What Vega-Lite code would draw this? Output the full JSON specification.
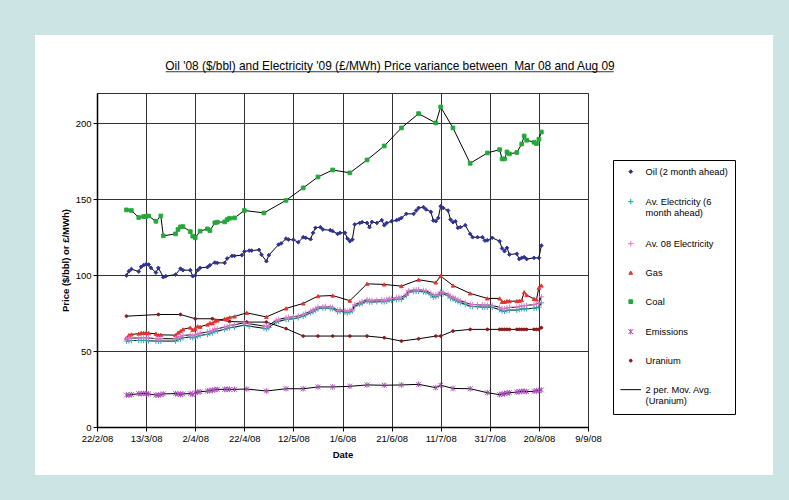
{
"$schema": "https://vega.github.io/schema/vega-lite/v6.json",
"autosize": {"type": "none"},
"width": 491,
"height": 334,
"padding": {"left": 97, "top": 93, "right": 201, "bottom": 73},
"background": "white",
"config": {
  "font": "Liberation Sans",
  "view": {"stroke": "#333333", "strokeWidth": 1}
},
"title": {"text": "Oil '08 ($/bbl) and Electricity '09 (£/MWh) Price variance between \u00a0Mar 08 and Aug 09", "font": "Liberation Sans", "fontSize": 11.9, "fontWeight": "normal", "color": "black", "anchor": "middle", "frame": "group", "offset": 0, "baseline": "alphabetic", "dx": 47.5, "dy": 110},
"datasets": {
"prices": [
{"series":"Oil (2 month ahead)","date":"2008-03-05","price":99.8},
{"series":"Oil (2 month ahead)","date":"2008-03-06","price":102.6},
{"series":"Oil (2 month ahead)","date":"2008-03-07","price":104.0},
{"series":"Oil (2 month ahead)","date":"2008-03-10","price":102.4},
{"series":"Oil (2 month ahead)","date":"2008-03-11","price":105.5},
{"series":"Oil (2 month ahead)","date":"2008-03-12","price":106.6},
{"series":"Oil (2 month ahead)","date":"2008-03-13","price":107.2},
{"series":"Oil (2 month ahead)","date":"2008-03-14","price":107.0},
{"series":"Oil (2 month ahead)","date":"2008-03-15","price":104.8},
{"series":"Oil (2 month ahead)","date":"2008-03-17","price":101.7},
{"series":"Oil (2 month ahead)","date":"2008-03-18","price":104.8},
{"series":"Oil (2 month ahead)","date":"2008-03-20","price":98.7},
{"series":"Oil (2 month ahead)","date":"2008-03-21","price":99.3},
{"series":"Oil (2 month ahead)","date":"2008-03-25","price":100.4},
{"series":"Oil (2 month ahead)","date":"2008-03-27","price":104.3},
{"series":"Oil (2 month ahead)","date":"2008-03-28","price":103.3},
{"series":"Oil (2 month ahead)","date":"2008-03-31","price":103.3},
{"series":"Oil (2 month ahead)","date":"2008-04-01","price":99.3},
{"series":"Oil (2 month ahead)","date":"2008-04-02","price":99.8},
{"series":"Oil (2 month ahead)","date":"2008-04-03","price":103.3},
{"series":"Oil (2 month ahead)","date":"2008-04-04","price":104.8},
{"series":"Oil (2 month ahead)","date":"2008-04-07","price":105.3},
{"series":"Oil (2 month ahead)","date":"2008-04-08","price":106.6},
{"series":"Oil (2 month ahead)","date":"2008-04-10","price":108.3},
{"series":"Oil (2 month ahead)","date":"2008-04-11","price":108.1},
{"series":"Oil (2 month ahead)","date":"2008-04-14","price":108.1},
{"series":"Oil (2 month ahead)","date":"2008-04-15","price":111.0},
{"series":"Oil (2 month ahead)","date":"2008-04-17","price":112.7},
{"series":"Oil (2 month ahead)","date":"2008-04-18","price":112.7},
{"series":"Oil (2 month ahead)","date":"2008-04-21","price":113.2},
{"series":"Oil (2 month ahead)","date":"2008-04-22","price":115.6},
{"series":"Oil (2 month ahead)","date":"2008-04-24","price":116.2},
{"series":"Oil (2 month ahead)","date":"2008-04-25","price":116.2},
{"series":"Oil (2 month ahead)","date":"2008-04-28","price":116.7},
{"series":"Oil (2 month ahead)","date":"2008-04-29","price":113.5},
{"series":"Oil (2 month ahead)","date":"2008-05-01","price":109.2},
{"series":"Oil (2 month ahead)","date":"2008-05-02","price":113.2},
{"series":"Oil (2 month ahead)","date":"2008-05-06","price":120.2},
{"series":"Oil (2 month ahead)","date":"2008-05-07","price":120.9},
{"series":"Oil (2 month ahead)","date":"2008-05-09","price":124.1},
{"series":"Oil (2 month ahead)","date":"2008-05-10","price":123.5},
{"series":"Oil (2 month ahead)","date":"2008-05-12","price":123.3},
{"series":"Oil (2 month ahead)","date":"2008-05-14","price":121.7},
{"series":"Oil (2 month ahead)","date":"2008-05-16","price":125.0},
{"series":"Oil (2 month ahead)","date":"2008-05-17","price":124.6},
{"series":"Oil (2 month ahead)","date":"2008-05-19","price":123.7},
{"series":"Oil (2 month ahead)","date":"2008-05-20","price":127.9},
{"series":"Oil (2 month ahead)","date":"2008-05-21","price":131.2},
{"series":"Oil (2 month ahead)","date":"2008-05-23","price":131.6},
{"series":"Oil (2 month ahead)","date":"2008-05-24","price":130.1},
{"series":"Oil (2 month ahead)","date":"2008-05-27","price":129.6},
{"series":"Oil (2 month ahead)","date":"2008-05-28","price":129.0},
{"series":"Oil (2 month ahead)","date":"2008-05-30","price":127.2},
{"series":"Oil (2 month ahead)","date":"2008-05-31","price":127.9},
{"series":"Oil (2 month ahead)","date":"2008-06-02","price":127.9},
{"series":"Oil (2 month ahead)","date":"2008-06-03","price":124.1},
{"series":"Oil (2 month ahead)","date":"2008-06-04","price":122.4},
{"series":"Oil (2 month ahead)","date":"2008-06-05","price":123.5},
{"series":"Oil (2 month ahead)","date":"2008-06-06","price":133.4},
{"series":"Oil (2 month ahead)","date":"2008-06-08","price":134.4},
{"series":"Oil (2 month ahead)","date":"2008-06-09","price":134.9},
{"series":"Oil (2 month ahead)","date":"2008-06-11","price":134.4},
{"series":"Oil (2 month ahead)","date":"2008-06-12","price":131.6},
{"series":"Oil (2 month ahead)","date":"2008-06-13","price":135.1},
{"series":"Oil (2 month ahead)","date":"2008-06-15","price":134.4},
{"series":"Oil (2 month ahead)","date":"2008-06-17","price":136.2},
{"series":"Oil (2 month ahead)","date":"2008-06-18","price":132.9},
{"series":"Oil (2 month ahead)","date":"2008-06-19","price":134.4},
{"series":"Oil (2 month ahead)","date":"2008-06-21","price":135.5},
{"series":"Oil (2 month ahead)","date":"2008-06-23","price":136.2},
{"series":"Oil (2 month ahead)","date":"2008-06-24","price":136.8},
{"series":"Oil (2 month ahead)","date":"2008-06-25","price":137.7},
{"series":"Oil (2 month ahead)","date":"2008-06-27","price":140.4},
{"series":"Oil (2 month ahead)","date":"2008-06-30","price":140.4},
{"series":"Oil (2 month ahead)","date":"2008-07-01","price":142.6},
{"series":"Oil (2 month ahead)","date":"2008-07-02","price":144.3},
{"series":"Oil (2 month ahead)","date":"2008-07-04","price":144.8},
{"series":"Oil (2 month ahead)","date":"2008-07-05","price":143.3},
{"series":"Oil (2 month ahead)","date":"2008-07-07","price":141.7},
{"series":"Oil (2 month ahead)","date":"2008-07-08","price":136.0},
{"series":"Oil (2 month ahead)","date":"2008-07-09","price":135.6},
{"series":"Oil (2 month ahead)","date":"2008-07-10","price":137.7},
{"series":"Oil (2 month ahead)","date":"2008-07-11","price":145.4},
{"series":"Oil (2 month ahead)","date":"2008-07-12","price":144.3},
{"series":"Oil (2 month ahead)","date":"2008-07-14","price":142.6},
{"series":"Oil (2 month ahead)","date":"2008-07-15","price":136.6},
{"series":"Oil (2 month ahead)","date":"2008-07-16","price":134.9},
{"series":"Oil (2 month ahead)","date":"2008-07-17","price":135.5},
{"series":"Oil (2 month ahead)","date":"2008-07-18","price":131.2},
{"series":"Oil (2 month ahead)","date":"2008-07-19","price":131.6},
{"series":"Oil (2 month ahead)","date":"2008-07-21","price":132.9},
{"series":"Oil (2 month ahead)","date":"2008-07-23","price":127.2},
{"series":"Oil (2 month ahead)","date":"2008-07-24","price":125.0},
{"series":"Oil (2 month ahead)","date":"2008-07-26","price":125.0},
{"series":"Oil (2 month ahead)","date":"2008-07-28","price":125.0},
{"series":"Oil (2 month ahead)","date":"2008-07-29","price":122.8},
{"series":"Oil (2 month ahead)","date":"2008-07-30","price":123.0},
{"series":"Oil (2 month ahead)","date":"2008-08-01","price":124.6},
{"series":"Oil (2 month ahead)","date":"2008-08-04","price":122.4},
{"series":"Oil (2 month ahead)","date":"2008-08-05","price":117.6},
{"series":"Oil (2 month ahead)","date":"2008-08-06","price":115.8},
{"series":"Oil (2 month ahead)","date":"2008-08-07","price":118.0},
{"series":"Oil (2 month ahead)","date":"2008-08-08","price":113.6},
{"series":"Oil (2 month ahead)","date":"2008-08-11","price":114.1},
{"series":"Oil (2 month ahead)","date":"2008-08-12","price":110.6},
{"series":"Oil (2 month ahead)","date":"2008-08-13","price":111.4},
{"series":"Oil (2 month ahead)","date":"2008-08-14","price":111.9},
{"series":"Oil (2 month ahead)","date":"2008-08-15","price":110.6},
{"series":"Oil (2 month ahead)","date":"2008-08-18","price":111.4},
{"series":"Oil (2 month ahead)","date":"2008-08-20","price":111.4},
{"series":"Oil (2 month ahead)","date":"2008-08-21","price":119.5},
{"series":"Coal","date":"2008-03-05","price":143.0},
{"series":"Coal","date":"2008-03-07","price":142.6},
{"series":"Coal","date":"2008-03-10","price":138.0},
{"series":"Coal","date":"2008-03-12","price":138.6},
{"series":"Coal","date":"2008-03-13","price":138.8},
{"series":"Coal","date":"2008-03-14","price":139.0},
{"series":"Coal","date":"2008-03-17","price":135.5},
{"series":"Coal","date":"2008-03-19","price":139.0},
{"series":"Coal","date":"2008-03-20","price":125.9},
{"series":"Coal","date":"2008-03-25","price":127.2},
{"series":"Coal","date":"2008-03-26","price":130.1},
{"series":"Coal","date":"2008-03-27","price":131.8},
{"series":"Coal","date":"2008-03-28","price":132.0},
{"series":"Coal","date":"2008-03-31","price":128.7},
{"series":"Coal","date":"2008-04-01","price":125.7},
{"series":"Coal","date":"2008-04-02","price":124.6},
{"series":"Coal","date":"2008-04-04","price":129.0},
{"series":"Coal","date":"2008-04-07","price":130.5},
{"series":"Coal","date":"2008-04-08","price":129.4},
{"series":"Coal","date":"2008-04-10","price":134.5},
{"series":"Coal","date":"2008-04-11","price":134.9},
{"series":"Coal","date":"2008-04-14","price":135.1},
{"series":"Coal","date":"2008-04-15","price":136.6},
{"series":"Coal","date":"2008-04-16","price":137.5},
{"series":"Coal","date":"2008-04-18","price":137.7},
{"series":"Coal","date":"2008-04-22","price":142.6},
{"series":"Coal","date":"2008-04-30","price":141.0},
{"series":"Coal","date":"2008-05-09","price":149.3},
{"series":"Coal","date":"2008-05-16","price":157.5},
{"series":"Coal","date":"2008-05-22","price":164.7},
{"series":"Coal","date":"2008-05-28","price":169.3},
{"series":"Coal","date":"2008-06-04","price":167.4},
{"series":"Coal","date":"2008-06-11","price":175.9},
{"series":"Coal","date":"2008-06-18","price":185.1},
{"series":"Coal","date":"2008-06-25","price":197.0},
{"series":"Coal","date":"2008-07-02","price":206.4},
{"series":"Coal","date":"2008-07-09","price":200.3},
{"series":"Coal","date":"2008-07-11","price":210.8},
{"series":"Coal","date":"2008-07-16","price":197.0},
{"series":"Coal","date":"2008-07-23","price":173.7},
{"series":"Coal","date":"2008-07-30","price":180.5},
{"series":"Coal","date":"2008-08-04","price":182.7},
{"series":"Coal","date":"2008-08-05","price":176.6},
{"series":"Coal","date":"2008-08-06","price":176.6},
{"series":"Coal","date":"2008-08-07","price":181.2},
{"series":"Coal","date":"2008-08-08","price":179.9},
{"series":"Coal","date":"2008-08-11","price":180.8},
{"series":"Coal","date":"2008-08-13","price":186.4},
{"series":"Coal","date":"2008-08-14","price":191.7},
{"series":"Coal","date":"2008-08-15","price":188.9},
{"series":"Coal","date":"2008-08-18","price":187.6},
{"series":"Coal","date":"2008-08-19","price":186.7},
{"series":"Coal","date":"2008-08-20","price":189.6},
{"series":"Coal","date":"2008-08-21","price":194.3},
{"series":"Uranium","date":"2008-03-05","price":73.0},
{"series":"Uranium","date":"2008-03-18","price":74.1},
{"series":"Uranium","date":"2008-03-27","price":74.1},
{"series":"Uranium","date":"2008-04-02","price":71.3},
{"series":"Uranium","date":"2008-04-09","price":71.3},
{"series":"Uranium","date":"2008-04-16","price":69.5},
{"series":"Uranium","date":"2008-04-23","price":69.1},
{"series":"Uranium","date":"2008-05-01","price":69.1},
{"series":"Uranium","date":"2008-05-09","price":64.8},
{"series":"Uranium","date":"2008-05-16","price":59.9},
{"series":"Uranium","date":"2008-05-22","price":59.9},
{"series":"Uranium","date":"2008-05-28","price":59.9},
{"series":"Uranium","date":"2008-06-04","price":59.9},
{"series":"Uranium","date":"2008-06-11","price":59.9},
{"series":"Uranium","date":"2008-06-18","price":58.8},
{"series":"Uranium","date":"2008-06-25","price":56.6},
{"series":"Uranium","date":"2008-07-02","price":58.1},
{"series":"Uranium","date":"2008-07-09","price":59.9},
{"series":"Uranium","date":"2008-07-11","price":59.9},
{"series":"Uranium","date":"2008-07-16","price":63.2},
{"series":"Uranium","date":"2008-07-23","price":64.3},
{"series":"Uranium","date":"2008-07-30","price":64.3},
{"series":"Uranium","date":"2008-08-04","price":64.3},
{"series":"Uranium","date":"2008-08-05","price":64.3},
{"series":"Uranium","date":"2008-08-06","price":64.3},
{"series":"Uranium","date":"2008-08-07","price":64.3},
{"series":"Uranium","date":"2008-08-08","price":64.3},
{"series":"Uranium","date":"2008-08-11","price":64.3},
{"series":"Uranium","date":"2008-08-12","price":64.3},
{"series":"Uranium","date":"2008-08-13","price":64.3},
{"series":"Uranium","date":"2008-08-14","price":64.3},
{"series":"Uranium","date":"2008-08-15","price":64.3},
{"series":"Uranium","date":"2008-08-18","price":64.3},
{"series":"Uranium","date":"2008-08-19","price":64.3},
{"series":"Uranium","date":"2008-08-20","price":64.3},
{"series":"Uranium","date":"2008-08-21","price":65.4},
{"series":"Gas","date":"2008-03-05","price":58.8},
{"series":"Gas","date":"2008-03-06","price":60.5},
{"series":"Gas","date":"2008-03-07","price":61.0},
{"series":"Gas","date":"2008-03-10","price":61.5},
{"series":"Gas","date":"2008-03-11","price":62.0},
{"series":"Gas","date":"2008-03-12","price":62.0},
{"series":"Gas","date":"2008-03-13","price":62.0},
{"series":"Gas","date":"2008-03-14","price":61.8},
{"series":"Gas","date":"2008-03-17","price":61.4},
{"series":"Gas","date":"2008-03-18","price":60.5},
{"series":"Gas","date":"2008-03-19","price":60.7},
{"series":"Gas","date":"2008-03-25","price":60.5},
{"series":"Gas","date":"2008-03-26","price":62.1},
{"series":"Gas","date":"2008-03-27","price":63.2},
{"series":"Gas","date":"2008-03-28","price":64.3},
{"series":"Gas","date":"2008-03-31","price":65.5},
{"series":"Gas","date":"2008-04-01","price":64.0},
{"series":"Gas","date":"2008-04-02","price":64.8},
{"series":"Gas","date":"2008-04-03","price":66.3},
{"series":"Gas","date":"2008-04-04","price":66.0},
{"series":"Gas","date":"2008-04-07","price":67.5},
{"series":"Gas","date":"2008-04-08","price":68.5},
{"series":"Gas","date":"2008-04-09","price":68.3},
{"series":"Gas","date":"2008-04-10","price":69.7},
{"series":"Gas","date":"2008-04-11","price":70.2},
{"series":"Gas","date":"2008-04-14","price":71.2},
{"series":"Gas","date":"2008-04-15","price":71.5},
{"series":"Gas","date":"2008-04-16","price":72.2},
{"series":"Gas","date":"2008-04-18","price":72.8},
{"series":"Gas","date":"2008-04-23","price":75.2},
{"series":"Gas","date":"2008-05-01","price":72.5},
{"series":"Gas","date":"2008-05-09","price":78.1},
{"series":"Gas","date":"2008-05-16","price":81.4},
{"series":"Gas","date":"2008-05-22","price":86.2},
{"series":"Gas","date":"2008-05-28","price":86.6},
{"series":"Gas","date":"2008-06-04","price":83.2},
{"series":"Gas","date":"2008-06-11","price":94.3},
{"series":"Gas","date":"2008-06-18","price":93.9},
{"series":"Gas","date":"2008-06-25","price":92.8},
{"series":"Gas","date":"2008-07-02","price":97.0},
{"series":"Gas","date":"2008-07-09","price":95.2},
{"series":"Gas","date":"2008-07-11","price":99.4},
{"series":"Gas","date":"2008-07-16","price":93.2},
{"series":"Gas","date":"2008-07-23","price":88.0},
{"series":"Gas","date":"2008-07-30","price":84.7},
{"series":"Gas","date":"2008-08-04","price":84.7},
{"series":"Gas","date":"2008-08-05","price":82.4},
{"series":"Gas","date":"2008-08-06","price":82.4},
{"series":"Gas","date":"2008-08-07","price":82.9},
{"series":"Gas","date":"2008-08-08","price":82.9},
{"series":"Gas","date":"2008-08-11","price":82.9},
{"series":"Gas","date":"2008-08-12","price":83.1},
{"series":"Gas","date":"2008-08-13","price":83.6},
{"series":"Gas","date":"2008-08-14","price":88.8},
{"series":"Gas","date":"2008-08-15","price":86.9},
{"series":"Gas","date":"2008-08-18","price":84.4},
{"series":"Gas","date":"2008-08-19","price":84.0},
{"series":"Gas","date":"2008-08-20","price":91.7},
{"series":"Gas","date":"2008-08-21","price":93.2},
{"series":"Av. Electricity (6 month ahead)","date":"2008-03-05","price":56.6},
{"series":"Av. Electricity (6 month ahead)","date":"2008-03-06","price":56.8},
{"series":"Av. Electricity (6 month ahead)","date":"2008-03-07","price":57.0},
{"series":"Av. Electricity (6 month ahead)","date":"2008-03-10","price":57.0},
{"series":"Av. Electricity (6 month ahead)","date":"2008-03-11","price":57.0},
{"series":"Av. Electricity (6 month ahead)","date":"2008-03-12","price":57.0},
{"series":"Av. Electricity (6 month ahead)","date":"2008-03-13","price":57.0},
{"series":"Av. Electricity (6 month ahead)","date":"2008-03-14","price":56.8},
{"series":"Av. Electricity (6 month ahead)","date":"2008-03-17","price":56.6},
{"series":"Av. Electricity (6 month ahead)","date":"2008-03-18","price":56.4},
{"series":"Av. Electricity (6 month ahead)","date":"2008-03-19","price":56.6},
{"series":"Av. Electricity (6 month ahead)","date":"2008-03-25","price":56.6},
{"series":"Av. Electricity (6 month ahead)","date":"2008-03-26","price":57.7},
{"series":"Av. Electricity (6 month ahead)","date":"2008-03-27","price":58.1},
{"series":"Av. Electricity (6 month ahead)","date":"2008-03-28","price":58.8},
{"series":"Av. Electricity (6 month ahead)","date":"2008-03-31","price":59.2},
{"series":"Av. Electricity (6 month ahead)","date":"2008-04-01","price":58.8},
{"series":"Av. Electricity (6 month ahead)","date":"2008-04-02","price":59.2},
{"series":"Av. Electricity (6 month ahead)","date":"2008-04-03","price":59.8},
{"series":"Av. Electricity (6 month ahead)","date":"2008-04-04","price":60.3},
{"series":"Av. Electricity (6 month ahead)","date":"2008-04-07","price":61.0},
{"series":"Av. Electricity (6 month ahead)","date":"2008-04-08","price":61.6},
{"series":"Av. Electricity (6 month ahead)","date":"2008-04-09","price":62.1},
{"series":"Av. Electricity (6 month ahead)","date":"2008-04-10","price":63.2},
{"series":"Av. Electricity (6 month ahead)","date":"2008-04-11","price":63.2},
{"series":"Av. Electricity (6 month ahead)","date":"2008-04-14","price":64.3},
{"series":"Av. Electricity (6 month ahead)","date":"2008-04-15","price":64.9},
{"series":"Av. Electricity (6 month ahead)","date":"2008-04-16","price":65.4},
{"series":"Av. Electricity (6 month ahead)","date":"2008-04-18","price":65.8},
{"series":"Av. Electricity (6 month ahead)","date":"2008-04-22","price":67.1},
{"series":"Av. Electricity (6 month ahead)","date":"2008-04-24","price":66.4},
{"series":"Av. Electricity (6 month ahead)","date":"2008-04-30","price":65.0},
{"series":"Av. Electricity (6 month ahead)","date":"2008-05-01","price":64.7},
{"series":"Av. Electricity (6 month ahead)","date":"2008-05-02","price":65.5},
{"series":"Av. Electricity (6 month ahead)","date":"2008-05-05","price":69.1},
{"series":"Av. Electricity (6 month ahead)","date":"2008-05-06","price":69.6},
{"series":"Av. Electricity (6 month ahead)","date":"2008-05-09","price":70.8},
{"series":"Av. Electricity (6 month ahead)","date":"2008-05-10","price":71.0},
{"series":"Av. Electricity (6 month ahead)","date":"2008-05-12","price":71.3},
{"series":"Av. Electricity (6 month ahead)","date":"2008-05-14","price":72.0},
{"series":"Av. Electricity (6 month ahead)","date":"2008-05-16","price":73.0},
{"series":"Av. Electricity (6 month ahead)","date":"2008-05-17","price":73.8},
{"series":"Av. Electricity (6 month ahead)","date":"2008-05-19","price":75.2},
{"series":"Av. Electricity (6 month ahead)","date":"2008-05-20","price":76.0},
{"series":"Av. Electricity (6 month ahead)","date":"2008-05-21","price":77.0},
{"series":"Av. Electricity (6 month ahead)","date":"2008-05-22","price":77.9},
{"series":"Av. Electricity (6 month ahead)","date":"2008-05-24","price":78.3},
{"series":"Av. Electricity (6 month ahead)","date":"2008-05-25","price":78.5},
{"series":"Av. Electricity (6 month ahead)","date":"2008-05-27","price":78.0},
{"series":"Av. Electricity (6 month ahead)","date":"2008-05-28","price":77.9},
{"series":"Av. Electricity (6 month ahead)","date":"2008-05-30","price":75.9},
{"series":"Av. Electricity (6 month ahead)","date":"2008-05-31","price":76.2},
{"series":"Av. Electricity (6 month ahead)","date":"2008-06-02","price":75.6},
{"series":"Av. Electricity (6 month ahead)","date":"2008-06-03","price":75.2},
{"series":"Av. Electricity (6 month ahead)","date":"2008-06-04","price":75.7},
{"series":"Av. Electricity (6 month ahead)","date":"2008-06-05","price":76.5},
{"series":"Av. Electricity (6 month ahead)","date":"2008-06-06","price":79.6},
{"series":"Av. Electricity (6 month ahead)","date":"2008-06-08","price":80.8},
{"series":"Av. Electricity (6 month ahead)","date":"2008-06-09","price":81.5},
{"series":"Av. Electricity (6 month ahead)","date":"2008-06-11","price":82.9},
{"series":"Av. Electricity (6 month ahead)","date":"2008-06-12","price":82.4},
{"series":"Av. Electricity (6 month ahead)","date":"2008-06-13","price":82.3},
{"series":"Av. Electricity (6 month ahead)","date":"2008-06-15","price":82.5},
{"series":"Av. Electricity (6 month ahead)","date":"2008-06-17","price":82.6},
{"series":"Av. Electricity (6 month ahead)","date":"2008-06-18","price":82.5},
{"series":"Av. Electricity (6 month ahead)","date":"2008-06-19","price":82.8},
{"series":"Av. Electricity (6 month ahead)","date":"2008-06-20","price":83.6},
{"series":"Av. Electricity (6 month ahead)","date":"2008-06-21","price":83.4},
{"series":"Av. Electricity (6 month ahead)","date":"2008-06-23","price":84.0},
{"series":"Av. Electricity (6 month ahead)","date":"2008-06-24","price":84.3},
{"series":"Av. Electricity (6 month ahead)","date":"2008-06-25","price":84.0},
{"series":"Av. Electricity (6 month ahead)","date":"2008-06-27","price":86.5},
{"series":"Av. Electricity (6 month ahead)","date":"2008-06-28","price":88.8},
{"series":"Av. Electricity (6 month ahead)","date":"2008-06-30","price":89.2},
{"series":"Av. Electricity (6 month ahead)","date":"2008-07-01","price":89.4},
{"series":"Av. Electricity (6 month ahead)","date":"2008-07-02","price":89.5},
{"series":"Av. Electricity (6 month ahead)","date":"2008-07-04","price":89.0},
{"series":"Av. Electricity (6 month ahead)","date":"2008-07-05","price":88.8},
{"series":"Av. Electricity (6 month ahead)","date":"2008-07-07","price":87.0},
{"series":"Av. Electricity (6 month ahead)","date":"2008-07-08","price":85.5},
{"series":"Av. Electricity (6 month ahead)","date":"2008-07-09","price":85.8},
{"series":"Av. Electricity (6 month ahead)","date":"2008-07-10","price":86.4},
{"series":"Av. Electricity (6 month ahead)","date":"2008-07-11","price":88.0},
{"series":"Av. Electricity (6 month ahead)","date":"2008-07-12","price":87.6},
{"series":"Av. Electricity (6 month ahead)","date":"2008-07-14","price":86.5},
{"series":"Av. Electricity (6 month ahead)","date":"2008-07-15","price":85.0},
{"series":"Av. Electricity (6 month ahead)","date":"2008-07-16","price":84.4},
{"series":"Av. Electricity (6 month ahead)","date":"2008-07-17","price":83.5},
{"series":"Av. Electricity (6 month ahead)","date":"2008-07-18","price":82.6},
{"series":"Av. Electricity (6 month ahead)","date":"2008-07-19","price":82.0},
{"series":"Av. Electricity (6 month ahead)","date":"2008-07-21","price":80.8},
{"series":"Av. Electricity (6 month ahead)","date":"2008-07-23","price":79.6},
{"series":"Av. Electricity (6 month ahead)","date":"2008-07-24","price":79.4},
{"series":"Av. Electricity (6 month ahead)","date":"2008-07-26","price":79.2},
{"series":"Av. Electricity (6 month ahead)","date":"2008-07-28","price":79.0},
{"series":"Av. Electricity (6 month ahead)","date":"2008-07-29","price":79.0},
{"series":"Av. Electricity (6 month ahead)","date":"2008-07-30","price":79.0},
{"series":"Av. Electricity (6 month ahead)","date":"2008-08-01","price":78.8},
{"series":"Av. Electricity (6 month ahead)","date":"2008-08-04","price":77.3},
{"series":"Av. Electricity (6 month ahead)","date":"2008-08-05","price":76.4},
{"series":"Av. Electricity (6 month ahead)","date":"2008-08-06","price":76.2},
{"series":"Av. Electricity (6 month ahead)","date":"2008-08-07","price":76.8},
{"series":"Av. Electricity (6 month ahead)","date":"2008-08-08","price":77.0},
{"series":"Av. Electricity (6 month ahead)","date":"2008-08-11","price":77.0},
{"series":"Av. Electricity (6 month ahead)","date":"2008-08-12","price":77.4},
{"series":"Av. Electricity (6 month ahead)","date":"2008-08-13","price":77.9},
{"series":"Av. Electricity (6 month ahead)","date":"2008-08-14","price":77.8},
{"series":"Av. Electricity (6 month ahead)","date":"2008-08-15","price":77.9},
{"series":"Av. Electricity (6 month ahead)","date":"2008-08-18","price":78.2},
{"series":"Av. Electricity (6 month ahead)","date":"2008-08-19","price":78.5},
{"series":"Av. Electricity (6 month ahead)","date":"2008-08-20","price":79.0},
{"series":"Av. Electricity (6 month ahead)","date":"2008-08-21","price":81.8},
{"series":"Av. 08 Electricity","date":"2008-03-05","price":58.1},
{"series":"Av. 08 Electricity","date":"2008-03-06","price":58.5},
{"series":"Av. 08 Electricity","date":"2008-03-07","price":58.6},
{"series":"Av. 08 Electricity","date":"2008-03-10","price":58.6},
{"series":"Av. 08 Electricity","date":"2008-03-11","price":58.8},
{"series":"Av. 08 Electricity","date":"2008-03-12","price":58.8},
{"series":"Av. 08 Electricity","date":"2008-03-13","price":58.8},
{"series":"Av. 08 Electricity","date":"2008-03-14","price":58.6},
{"series":"Av. 08 Electricity","date":"2008-03-17","price":58.2},
{"series":"Av. 08 Electricity","date":"2008-03-18","price":58.0},
{"series":"Av. 08 Electricity","date":"2008-03-19","price":58.2},
{"series":"Av. 08 Electricity","date":"2008-03-25","price":58.1},
{"series":"Av. 08 Electricity","date":"2008-03-26","price":59.2},
{"series":"Av. 08 Electricity","date":"2008-03-27","price":59.6},
{"series":"Av. 08 Electricity","date":"2008-03-28","price":60.3},
{"series":"Av. 08 Electricity","date":"2008-03-31","price":60.7},
{"series":"Av. 08 Electricity","date":"2008-04-01","price":60.2},
{"series":"Av. 08 Electricity","date":"2008-04-02","price":60.6},
{"series":"Av. 08 Electricity","date":"2008-04-03","price":61.2},
{"series":"Av. 08 Electricity","date":"2008-04-04","price":61.8},
{"series":"Av. 08 Electricity","date":"2008-04-07","price":62.5},
{"series":"Av. 08 Electricity","date":"2008-04-08","price":63.1},
{"series":"Av. 08 Electricity","date":"2008-04-09","price":63.5},
{"series":"Av. 08 Electricity","date":"2008-04-10","price":64.6},
{"series":"Av. 08 Electricity","date":"2008-04-11","price":64.7},
{"series":"Av. 08 Electricity","date":"2008-04-14","price":65.8},
{"series":"Av. 08 Electricity","date":"2008-04-15","price":66.3},
{"series":"Av. 08 Electricity","date":"2008-04-16","price":66.9},
{"series":"Av. 08 Electricity","date":"2008-04-18","price":67.3},
{"series":"Av. 08 Electricity","date":"2008-04-22","price":68.7},
{"series":"Av. 08 Electricity","date":"2008-04-24","price":68.0},
{"series":"Av. 08 Electricity","date":"2008-04-30","price":66.5},
{"series":"Av. 08 Electricity","date":"2008-05-01","price":66.2},
{"series":"Av. 08 Electricity","date":"2008-05-02","price":67.0},
{"series":"Av. 08 Electricity","date":"2008-05-05","price":70.3},
{"series":"Av. 08 Electricity","date":"2008-05-06","price":70.8},
{"series":"Av. 08 Electricity","date":"2008-05-09","price":72.0},
{"series":"Av. 08 Electricity","date":"2008-05-10","price":72.2},
{"series":"Av. 08 Electricity","date":"2008-05-12","price":72.6},
{"series":"Av. 08 Electricity","date":"2008-05-14","price":73.2},
{"series":"Av. 08 Electricity","date":"2008-05-16","price":74.2},
{"series":"Av. 08 Electricity","date":"2008-05-17","price":74.9},
{"series":"Av. 08 Electricity","date":"2008-05-19","price":76.3},
{"series":"Av. 08 Electricity","date":"2008-05-20","price":77.1},
{"series":"Av. 08 Electricity","date":"2008-05-21","price":78.0},
{"series":"Av. 08 Electricity","date":"2008-05-22","price":78.9},
{"series":"Av. 08 Electricity","date":"2008-05-24","price":79.2},
{"series":"Av. 08 Electricity","date":"2008-05-25","price":79.4},
{"series":"Av. 08 Electricity","date":"2008-05-27","price":79.0},
{"series":"Av. 08 Electricity","date":"2008-05-28","price":78.8},
{"series":"Av. 08 Electricity","date":"2008-05-30","price":76.9},
{"series":"Av. 08 Electricity","date":"2008-05-31","price":77.2},
{"series":"Av. 08 Electricity","date":"2008-06-02","price":76.6},
{"series":"Av. 08 Electricity","date":"2008-06-03","price":76.3},
{"series":"Av. 08 Electricity","date":"2008-06-04","price":76.8},
{"series":"Av. 08 Electricity","date":"2008-06-05","price":77.6},
{"series":"Av. 08 Electricity","date":"2008-06-06","price":80.6},
{"series":"Av. 08 Electricity","date":"2008-06-08","price":81.8},
{"series":"Av. 08 Electricity","date":"2008-06-09","price":82.5},
{"series":"Av. 08 Electricity","date":"2008-06-11","price":83.9},
{"series":"Av. 08 Electricity","date":"2008-06-12","price":83.5},
{"series":"Av. 08 Electricity","date":"2008-06-13","price":83.4},
{"series":"Av. 08 Electricity","date":"2008-06-15","price":83.6},
{"series":"Av. 08 Electricity","date":"2008-06-17","price":83.7},
{"series":"Av. 08 Electricity","date":"2008-06-18","price":83.6},
{"series":"Av. 08 Electricity","date":"2008-06-19","price":83.9},
{"series":"Av. 08 Electricity","date":"2008-06-20","price":84.7},
{"series":"Av. 08 Electricity","date":"2008-06-21","price":84.6},
{"series":"Av. 08 Electricity","date":"2008-06-23","price":85.2},
{"series":"Av. 08 Electricity","date":"2008-06-24","price":85.5},
{"series":"Av. 08 Electricity","date":"2008-06-25","price":85.3},
{"series":"Av. 08 Electricity","date":"2008-06-27","price":87.6},
{"series":"Av. 08 Electricity","date":"2008-06-28","price":89.8},
{"series":"Av. 08 Electricity","date":"2008-06-30","price":90.2},
{"series":"Av. 08 Electricity","date":"2008-07-01","price":90.4},
{"series":"Av. 08 Electricity","date":"2008-07-02","price":90.5},
{"series":"Av. 08 Electricity","date":"2008-07-04","price":90.0},
{"series":"Av. 08 Electricity","date":"2008-07-05","price":89.8},
{"series":"Av. 08 Electricity","date":"2008-07-07","price":88.1},
{"series":"Av. 08 Electricity","date":"2008-07-08","price":86.7},
{"series":"Av. 08 Electricity","date":"2008-07-09","price":87.0},
{"series":"Av. 08 Electricity","date":"2008-07-10","price":87.5},
{"series":"Av. 08 Electricity","date":"2008-07-11","price":89.1},
{"series":"Av. 08 Electricity","date":"2008-07-12","price":88.7},
{"series":"Av. 08 Electricity","date":"2008-07-14","price":87.6},
{"series":"Av. 08 Electricity","date":"2008-07-15","price":86.2},
{"series":"Av. 08 Electricity","date":"2008-07-16","price":85.6},
{"series":"Av. 08 Electricity","date":"2008-07-17","price":84.7},
{"series":"Av. 08 Electricity","date":"2008-07-18","price":83.8},
{"series":"Av. 08 Electricity","date":"2008-07-19","price":83.2},
{"series":"Av. 08 Electricity","date":"2008-07-21","price":82.1},
{"series":"Av. 08 Electricity","date":"2008-07-23","price":80.9},
{"series":"Av. 08 Electricity","date":"2008-07-24","price":80.7},
{"series":"Av. 08 Electricity","date":"2008-07-26","price":80.5},
{"series":"Av. 08 Electricity","date":"2008-07-28","price":80.4},
{"series":"Av. 08 Electricity","date":"2008-07-29","price":80.3},
{"series":"Av. 08 Electricity","date":"2008-07-30","price":80.3},
{"series":"Av. 08 Electricity","date":"2008-08-01","price":80.1},
{"series":"Av. 08 Electricity","date":"2008-08-04","price":78.8},
{"series":"Av. 08 Electricity","date":"2008-08-05","price":78.0},
{"series":"Av. 08 Electricity","date":"2008-08-06","price":77.9},
{"series":"Av. 08 Electricity","date":"2008-08-07","price":78.5},
{"series":"Av. 08 Electricity","date":"2008-08-08","price":78.8},
{"series":"Av. 08 Electricity","date":"2008-08-11","price":78.9},
{"series":"Av. 08 Electricity","date":"2008-08-12","price":79.3},
{"series":"Av. 08 Electricity","date":"2008-08-13","price":79.9},
{"series":"Av. 08 Electricity","date":"2008-08-14","price":79.9},
{"series":"Av. 08 Electricity","date":"2008-08-15","price":80.1},
{"series":"Av. 08 Electricity","date":"2008-08-18","price":80.6},
{"series":"Av. 08 Electricity","date":"2008-08-19","price":81.0},
{"series":"Av. 08 Electricity","date":"2008-08-20","price":81.7},
{"series":"Av. 08 Electricity","date":"2008-08-21","price":85.8},
{"series":"Emissions","date":"2008-03-05","price":21.0},
{"series":"Emissions","date":"2008-03-06","price":21.0},
{"series":"Emissions","date":"2008-03-07","price":21.4},
{"series":"Emissions","date":"2008-03-10","price":21.9},
{"series":"Emissions","date":"2008-03-11","price":22.0},
{"series":"Emissions","date":"2008-03-12","price":22.1},
{"series":"Emissions","date":"2008-03-13","price":22.0},
{"series":"Emissions","date":"2008-03-14","price":21.8},
{"series":"Emissions","date":"2008-03-17","price":21.0},
{"series":"Emissions","date":"2008-03-18","price":21.0},
{"series":"Emissions","date":"2008-03-19","price":21.3},
{"series":"Emissions","date":"2008-03-20","price":21.8},
{"series":"Emissions","date":"2008-03-25","price":22.0},
{"series":"Emissions","date":"2008-03-26","price":21.8},
{"series":"Emissions","date":"2008-03-27","price":21.4},
{"series":"Emissions","date":"2008-03-28","price":21.8},
{"series":"Emissions","date":"2008-03-31","price":22.0},
{"series":"Emissions","date":"2008-04-01","price":21.4},
{"series":"Emissions","date":"2008-04-02","price":22.6},
{"series":"Emissions","date":"2008-04-03","price":23.0},
{"series":"Emissions","date":"2008-04-04","price":23.2},
{"series":"Emissions","date":"2008-04-07","price":23.7},
{"series":"Emissions","date":"2008-04-08","price":24.0},
{"series":"Emissions","date":"2008-04-09","price":24.2},
{"series":"Emissions","date":"2008-04-10","price":24.6},
{"series":"Emissions","date":"2008-04-11","price":24.8},
{"series":"Emissions","date":"2008-04-14","price":24.8},
{"series":"Emissions","date":"2008-04-15","price":24.8},
{"series":"Emissions","date":"2008-04-16","price":24.8},
{"series":"Emissions","date":"2008-04-18","price":24.8},
{"series":"Emissions","date":"2008-04-23","price":25.0},
{"series":"Emissions","date":"2008-05-01","price":23.7},
{"series":"Emissions","date":"2008-05-09","price":25.2},
{"series":"Emissions","date":"2008-05-16","price":25.2},
{"series":"Emissions","date":"2008-05-22","price":26.4},
{"series":"Emissions","date":"2008-05-28","price":26.4},
{"series":"Emissions","date":"2008-06-04","price":26.8},
{"series":"Emissions","date":"2008-06-11","price":27.7},
{"series":"Emissions","date":"2008-06-18","price":27.5},
{"series":"Emissions","date":"2008-06-25","price":27.7},
{"series":"Emissions","date":"2008-07-02","price":28.1},
{"series":"Emissions","date":"2008-07-09","price":25.9},
{"series":"Emissions","date":"2008-07-11","price":27.5},
{"series":"Emissions","date":"2008-07-16","price":25.4},
{"series":"Emissions","date":"2008-07-23","price":25.2},
{"series":"Emissions","date":"2008-07-30","price":22.6},
{"series":"Emissions","date":"2008-08-04","price":21.3},
{"series":"Emissions","date":"2008-08-05","price":21.7},
{"series":"Emissions","date":"2008-08-06","price":21.9},
{"series":"Emissions","date":"2008-08-07","price":22.4},
{"series":"Emissions","date":"2008-08-08","price":22.6},
{"series":"Emissions","date":"2008-08-11","price":23.0},
{"series":"Emissions","date":"2008-08-12","price":23.3},
{"series":"Emissions","date":"2008-08-13","price":23.5},
{"series":"Emissions","date":"2008-08-14","price":23.5},
{"series":"Emissions","date":"2008-08-15","price":23.3},
{"series":"Emissions","date":"2008-08-18","price":23.5},
{"series":"Emissions","date":"2008-08-19","price":23.9},
{"series":"Emissions","date":"2008-08-20","price":23.9},
{"series":"Emissions","date":"2008-08-21","price":24.4}
]
},
"layer": [
{
  "data": {"values": [{}]},
  "mark": {"type": "rect", "color": "#cde4e4"},
  "encoding": {
    "x": {"datum": {"year": 2007, "month": 12, "date": 1, "utc": true}, "type": "temporal", "scale": {"type": "utc", "domain": [{"year": 2008, "month": 2, "date": 22, "utc": true}, {"year": 2008, "month": 9, "date": 9, "utc": true}]}},
    "x2": {"datum": {"year": 2008, "month": 1, "date": 27, "hours": 18, "utc": true}},
    "y": {"datum": -60, "type": "quantitative", "scale": {"domain": [0, 220], "nice": false}},
    "y2": {"datum": 300}
  }
},
{
  "data": {"values": [{}]},
  "mark": {"type": "rect", "color": "#cde4e4"},
  "encoding": {
    "x": {"datum": {"year": 2007, "month": 12, "date": 1, "utc": true}, "type": "temporal"},
    "x2": {"datum": {"year": 2009, "month": 1, "date": 1, "utc": true}},
    "y": {"datum": 258.2, "type": "quantitative"},
    "y2": {"datum": 300}
  }
},
{
  "data": {"values": [{}]},
  "mark": {"type": "rect", "color": "#cde4e4"},
  "encoding": {
    "x": {"datum": {"year": 2008, "month": 11, "date": 23, "hours": 9, "utc": true}, "type": "temporal"},
    "x2": {"datum": {"year": 2009, "month": 1, "date": 1, "utc": true}},
    "y": {"datum": -60, "type": "quantitative"},
    "y2": {"datum": 300}
  }
},
{
  "data": {"values": [{}]},
  "mark": {"type": "rect", "color": "#cde4e4"},
  "encoding": {
    "x": {"datum": {"year": 2007, "month": 12, "date": 1, "utc": true}, "type": "temporal"},
    "x2": {"datum": {"year": 2009, "month": 1, "date": 1, "utc": true}},
    "y": {"datum": -60, "type": "quantitative"},
    "y2": {"datum": -31.6}
  }
},
{
  "data": {"values": [{}]},
  "mark": {"type": "rule", "color": "black", "strokeWidth": 0.8},
  "encoding": {
    "x": {"datum": {"year": 2008, "month": 3, "date": 21, "utc": true}, "type": "temporal"},
    "x2": {"datum": {"year": 2008, "month": 9, "date": 19, "hours": 12, "utc": true}},
    "y": {"datum": 234, "type": "quantitative"}
  }
},
{
  "data": {"name": "prices"},
  "mark": {"type": "line", "color": "black", "strokeWidth": 1},
  "encoding": {
    "x": {"field": "date", "type": "temporal", "scale": {"type": "utc", "domain": [{"year": 2008, "month": 2, "date": 22, "utc": true}, {"year": 2008, "month": 9, "date": 9, "utc": true}]},
      "axis": {"title": "Date", "format": "%-d/%-m/%y", "labelFlush": false, "labelOverlap": false, "labelAngle": 0,
        "values": [{"year": 2008, "month": 2, "date": 22, "utc": true}, {"year": 2008, "month": 3, "date": 13, "utc": true}, {"year": 2008, "month": 4, "date": 2, "utc": true}, {"year": 2008, "month": 4, "date": 22, "utc": true}, {"year": 2008, "month": 5, "date": 12, "utc": true}, {"year": 2008, "month": 6, "date": 1, "utc": true}, {"year": 2008, "month": 6, "date": 21, "utc": true}, {"year": 2008, "month": 7, "date": 11, "utc": true}, {"year": 2008, "month": 7, "date": 31, "utc": true}, {"year": 2008, "month": 8, "date": 20, "utc": true}, {"year": 2008, "month": 9, "date": 9, "utc": true}],
        "grid": true, "gridColor": "#333333", "gridWidth": 1, "domainColor": "black", "domainWidth": 1.5, "tickColor": "black", "tickSize": 4, "labelFontSize": 9.5, "labelColor": "black", "labelPadding": 2, "titleFontSize": 9.5, "titleFontWeight": "bold", "titleColor": "black", "titlePadding": 7}},
    "y": {"field": "price", "type": "quantitative", "scale": {"domain": [0, 220], "nice": false},
      "axis": {"title": "Price ($/bbl) or £/MWh)", "values": [0, 50, 100, 150, 200], "grid": true, "gridColor": "#333333", "gridWidth": 1, "domainColor": "black", "domainWidth": 1.5, "tickColor": "black", "tickSize": 4, "labelFontSize": 9.5, "labelColor": "black", "labelPadding": 2, "titleFontSize": 9.5, "titleFontWeight": "bold", "titleColor": "black", "titlePadding": 5}},
    "detail": {"field": "series", "type": "nominal"}
  }
},
{
  "data": {"name": "prices"},
  "mark": {"type": "point", "filled": true, "opacity": 1, "size": 14, "strokeWidth": 0.9},
  "encoding": {
    "x": {"field": "date", "type": "temporal"},
    "y": {"field": "price", "type": "quantitative"},
    "fill": {"field": "series", "type": "nominal",
      "scale": {"domain": ["Oil (2 month ahead)", "Av. Electricity (6 month ahead)", "Av. 08 Electricity", "Gas", "Coal", "Emissions", "Uranium", "2 per. Mov. Avg. (Uranium)"],
        "range": ["#2e3192", "#1aa5a5", "#e07ad0", "#e8322a", "#22a83a", "#a845b8", "#8b1a1a", "#000000"]},
      "legend": {"title": null, "orient": "none", "legendX": 516, "legendY": 67, "padding": 7, "fillColor": "white", "strokeColor": "black", "symbolOffset": 6.1, "labelOffset": 10.2, "rowPadding": 19, "labelFontSize": 9.3, "labelFont": "Liberation Sans", "labelColor": "black", "labelLimit": 200, "symbolSize": 14, "symbolStrokeWidth": 1,
        "labelExpr": "datum.label === 'Av. Electricity (6 month ahead)' ? ['Av. Electricity (6', 'month ahead)'] : datum.label === '2 per. Mov. Avg. (Uranium)' ? ['2 per. Mov. Avg.', '(Uranium)'] : datum.label",
        "encode": {"labels": {"lineHeight": {"value": 12.5}}}}},
    "stroke": {"field": "series", "type": "nominal",
      "scale": {"domain": ["Oil (2 month ahead)", "Av. Electricity (6 month ahead)", "Av. 08 Electricity", "Gas", "Coal", "Emissions", "Uranium", "2 per. Mov. Avg. (Uranium)"],
        "range": ["#2e3192", "#1aa5a5", "#e07ad0", "#e8322a", "#22a83a", "#a845b8", "#8b1a1a", "#000000"]},
      "legend": {"title": null, "orient": "none", "legendX": 516, "legendY": 67}},
    "shape": {"field": "series", "type": "nominal",
      "scale": {"domain": ["Oil (2 month ahead)", "Av. Electricity (6 month ahead)", "Av. 08 Electricity", "Gas", "Coal", "Emissions", "Uranium", "2 per. Mov. Avg. (Uranium)"],
        "range": ["diamond", "M-1.5,0L1.5,0M0,-1.5L0,1.5", "M-1.5,0L1.5,0M0,-1.5L0,1.5", "triangle-up", "square", "M-1.3,-1.3L1.3,1.3M-1.3,1.3L1.3,-1.3M0,-1.5L0,1.5", "M0.75,0A0.75,0.75,0,1,1,-0.75,0A0.75,0.75,0,1,1,0.75,0Z", "M-5.5,0L5.5,0"]},
      "legend": {"title": null, "orient": "none", "legendX": 516, "legendY": 67}}
  }
}
]
}
